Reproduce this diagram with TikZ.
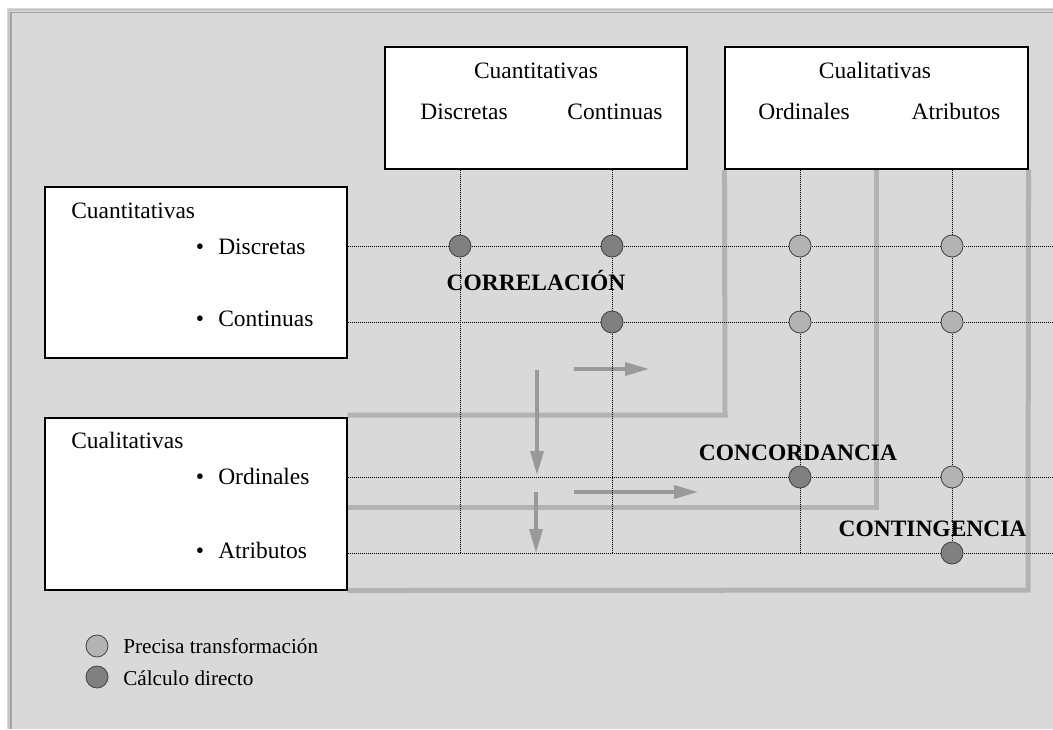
\documentclass[tikz,border=0pt]{standalone}
\usepackage{fontspec}
\setmainfont{Liberation Serif}
\usetikzlibrary{arrows.meta}

\definecolor{panel}{HTML}{D9D9D9}
\definecolor{rimlight}{HTML}{C6C6C6}
\definecolor{rimdark}{HTML}{A4A4A4}
\definecolor{bandgray}{HTML}{B3B3B3}
\definecolor{arrowgray}{HTML}{999999}
\definecolor{dotlight}{HTML}{B3B3B3}
\definecolor{dotdark}{HTML}{808080}
\definecolor{dotrim}{HTML}{404040}

\newcommand\mainfs{\fontsize{17.6pt}{21pt}\selectfont}
\newcommand\legfs{\fontsize{15.9pt}{19pt}\selectfont}

\begin{document}
\begin{tikzpicture}[x=0.75pt,y=-0.75pt,
  box/.style={draw=black, line width=0.8pt, fill=white, inner sep=0pt},
  txt/.style={inner sep=0pt, font=\mainfs},
  head/.style={inner sep=0pt, font=\mainfs\bfseries},
  legtxt/.style={inner sep=0pt, font=\legfs},
  grid/.style={draw=black, line width=0.75pt, dash pattern=on 0.75pt off 0.75pt},
  band/.style={draw=bandgray, line width=3.75pt},
  flow/.style={draw=arrowgray, line width=2.5pt, -{Triangle[length=18pt,width=9.75pt]}},
  dot/.style={circle, minimum size=16.5pt, inner sep=0pt, draw=dotrim, line width=0.6pt},
  lightdot/.style={dot, fill=dotlight},
  darkdot/.style={dot, fill=dotdark}]

% panel and its rim
\useasboundingbox (0,0) rectangle (1053,729);
\fill[white] (0,0) rectangle (1053,729);
\fill[panel] (7,8) rectangle (1053,729);
\draw[rimlight, line width=1.5pt] (8.5,729) -- (8.5,9.5) -- (1053,9.5);
\draw[rimdark, line width=1.3pt] (11,729) -- (11,12.5) -- (1053,12.5);

% boxes
\node[box, minimum width=226.5pt, minimum height=91.5pt] (A) at (536,108) {};
\node[box, minimum width=227.25pt, minimum height=91.5pt] (B) at (876.5,108) {};
\node[box, minimum width=226.5pt, minimum height=128.25pt] (C) at (196,272.5) {};
\node[box, minimum width=226.5pt, minimum height=129pt] (D) at (196,504) {};

% grid ends
\coordinate (v1) at (460,553);
\coordinate (v2) at (612,553);
\coordinate (v3) at (800,553);
\coordinate (v4) at (952,553);
\coordinate (h1) at (1053,246);
\coordinate (h2) at (1053,322);
\coordinate (h3) at (1053,477);
\coordinate (h4) at (1053,553);

% thick grey L-shaped bands
\coordinate (g1) at (725,415);
\coordinate (g2) at (876,507);
\coordinate (g3) at (1028,590);
\draw[band] (D.east |- g1) -- (g1) -- (B.south west);
\draw[band] (D.east |- g2) -- (g2) -- (B.south -| g2);
\draw[band] (D.south east) -- (g3) -- (B.south east);

% grey arrows
\coordinate (a1s) at (537,370);
\coordinate (a1e) at (537,475);
\coordinate (a2s) at (536,492);
\coordinate (a2e) at (536,553);
\coordinate (a3s) at (574,369);
\coordinate (a3e) at (649,369);
\coordinate (a4s) at (574,492);
\coordinate (a4e) at (698,492);
\draw[flow] (a1s) -- (a1e);
\draw[flow] (a2s) -- (a2e);
\draw[flow] (a3s) -- (a3e);
\draw[flow] (a4s) -- (a4e);

% dotted grid
\draw[grid] (A.south -| v1) -- (v1);
\draw[grid] (A.south -| v2) -- (v2);
\draw[grid] (B.south -| v3) -- (v3);
\draw[grid] (B.south -| v4) -- (v4);
\draw[grid] (C.east |- h1) -- (h1);
\draw[grid] (C.east |- h2) -- (h2);
\draw[grid] (D.east |- h3) -- (h3);
\draw[grid] (D.east |- h4) -- (h4);

% redraw box outlines over the bands
\draw[line width=0.8pt] (D.north west) rectangle (D.south east);
\draw[line width=0.8pt] (B.north west) rectangle (B.south east);

% texts in the boxes
\node[txt, anchor=base] (At) at (536,78) {Cuantitativas};
\node[txt, anchor=base] (A1) at (464,119) {Discretas};
\node[txt, anchor=base] (A2) at (615,119) {Continuas};
\node[txt, anchor=base] (Bt) at (875,78) {Cualitativas};
\node[txt, anchor=base] (B1) at (804,119) {Ordinales};
\node[txt, anchor=base] (B2) at (956,119) {Atributos};

\node[txt, anchor=base west] (Ct) at (71,218) {Cuantitativas};
\node[txt, anchor=base] (Cb1) at (200,254.5) {\textbullet};
\node[txt, anchor=base west] (C1) at (218,254.5) {Discretas};
\node[txt, anchor=base] (Cb2) at (200,326.5) {\textbullet};
\node[txt, anchor=base west] (C2) at (218,326.5) {Continuas};

\node[txt, anchor=base west] (Dt) at (71,448) {Cualitativas};
\node[txt, anchor=base] (Db1) at (200,484) {\textbullet};
\node[txt, anchor=base west] (D1) at (218,484) {Ordinales};
\node[txt, anchor=base] (Db2) at (200,558) {\textbullet};
\node[txt, anchor=base west] (D2) at (218,558) {Atributos};

% crossing points
\node[darkdot]  (p11) at (460,246) {};
\node[darkdot]  (p12) at (612,246) {};
\node[lightdot] (p13) at (800,246) {};
\node[lightdot] (p14) at (952,246) {};
\node[darkdot]  (p22) at (612,322) {};
\node[lightdot] (p23) at (800,322) {};
\node[lightdot] (p24) at (952,322) {};
\node[darkdot]  (p33) at (800,477) {};
\node[lightdot] (p34) at (952,477) {};
\node[darkdot]  (p44) at (952,553) {};

% region labels
\node[head, anchor=base] (corr) at (536,290) {CORRELACIÓN};
\node[head, anchor=base] (conc) at (798,460) {CONCORDANCIA};
\node[head, anchor=base] (cont) at (932.5,536) {CONTINGENCIA};

% legend
\node[lightdot] (k1) at (97,646) {};
\node[darkdot]  (k2) at (97,677) {};
\node[legtxt, anchor=base west] (k1t) at (123,653) {Precisa transformación};
\node[legtxt, anchor=base west] (k2t) at (123,685) {Cálculo directo};
\end{tikzpicture}
\end{document}
